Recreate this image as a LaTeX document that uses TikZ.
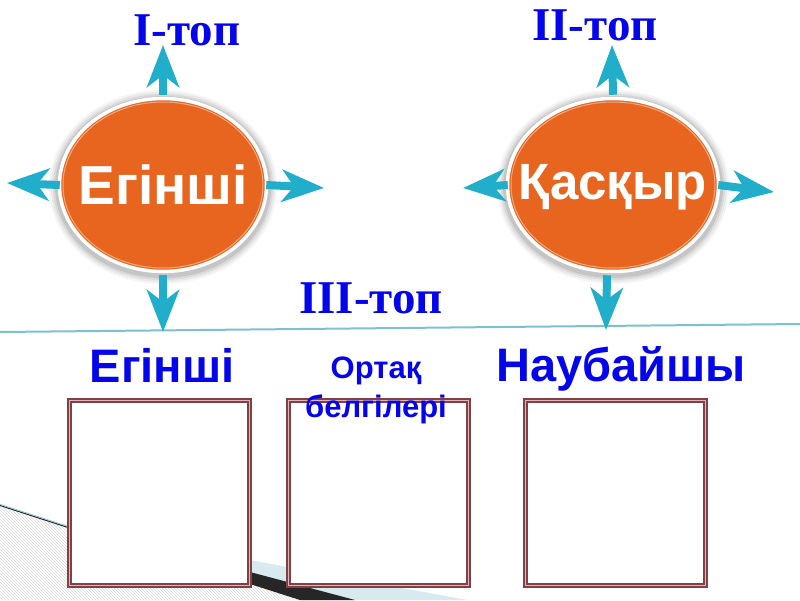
\documentclass[tikz,border=0pt]{standalone}
\usepackage{fontspec}
\setmainfont{Liberation Serif}
\setsansfont{Liberation Sans}
\usetikzlibrary{shapes.geometric,arrows.meta,patterns}
\definecolor{orng}{RGB}{232,101,31}
\definecolor{teal}{RGB}{32,174,202}
\definecolor{bluetxt}{RGB}{5,5,235}
\definecolor{maroon}{RGB}{128,64,70}
\definecolor{pinkin}{RGB}{226,180,186}
\definecolor{linecol}{RGB}{125,192,207}
\definecolor{lblue}{RGB}{214,234,240}
\tikzset{
  blob/.style={ellipse, fill=orng, draw=white, line width=3.5pt, inner sep=0pt},
  blobtext/.style={text=white, font=\sffamily\bfseries\fontsize{55}{60}\selectfont, inner sep=0pt},
  arr/.style={draw=teal, line width=8pt, -{Stealth[length=42pt, width=32pt, inset=12pt]}},
  grp/.style={text=bluetxt, font=\rmfamily\bfseries\fontsize{47}{50}\selectfont, anchor=base, inner sep=0pt},
  ttl/.style={text=bluetxt, font=\sffamily\bfseries\fontsize{47}{52}\selectfont, anchor=base, inner sep=0pt},
  sml/.style={text=bluetxt, font=\sffamily\bfseries\fontsize{31}{39}\selectfont, align=center, inner sep=0pt},
  cell/.style={rectangle, fill=white, draw=maroon, line width=1.5pt, double=pinkin, double distance=1.5pt,
     minimum width=180pt, minimum height=185pt, inner sep=0pt},
}
\begin{document}
\begin{tikzpicture}[x=1pt,y=-1pt]
\useasboundingbox (0,0) rectangle (800,600);
% background bottom-left
\fill[lblue] (0,504) -- (68,526) -- (250,560) -- (467,600) -- (0,600) -- cycle;
\fill[white] (0,506) -- (68,528) -- (250,584) -- (300,600) -- (0,600) -- cycle;
\fill[pattern=north west lines, pattern color=gray!30] (0,506) -- (68,528) -- (250,584) -- (300,600) -- (0,600) -- cycle;
\fill[black!85] (0,505) -- (68,527) -- (250,572) -- (355,600) -- (300,600) -- (250,584) -- (68,528) -- (0,506) -- cycle;
\draw[linecol, line width=0.6pt] (0,504.3) -- (68,526.3);
% horizontal line
\draw[linecol, line width=2pt] (0,332) -- (800,324);
% shadows
\foreach \s/\o in {9/0.04,7/0.05,5/0.07,3/0.09}{
  \fill[black, opacity=\o] (163,187) ellipse ({105+\s} and {88+\s});
  \fill[black, opacity=\o] (613,187) ellipse ({107+\s} and {88+\s});
}
% ellipses
\node[blob, minimum width=207pt, minimum height=173pt] (e1) at (163,185) {};
\draw[orng!55!white, line width=1pt] (e1.center) ellipse (100 and 83);
\node[blobtext] (x1) at (e1.center) {Егінші};
\node[blob, minimum width=211pt, minimum height=173pt] (e2) at (613,185) {};
\draw[orng!55!white, line width=1pt] (e2.center) ellipse (102 and 83);
\node[blobtext, font=\sffamily\bfseries\fontsize{51}{60}\selectfont] (x2) at ([yshift=-2pt]e2.center) {Қасқыр};
% arrow ends
\coordinate (u1) at (163,45);
\coordinate (l1) at (7,183);
\coordinate (r1) at (324,188);
\coordinate (d1) at (163,332);
\coordinate (u2) at (612,45);
\coordinate (l2) at (463,188);
\coordinate (r2) at (774,192);
\coordinate (d2) at (606,330);
\draw[arr] ([yshift=2pt]e1.north) -- (u1);
\draw[arr] ([xshift=2pt]e1.west) -- (l1);
\draw[arr] ([xshift=-2pt]e1.east) -- (r1);
\draw[arr] ([yshift=-2pt]e1.south) -- (d1);
\draw[arr] ([yshift=2pt]e2.north) -- (u2);
\draw[arr] ([xshift=2pt]e2.west) -- (l2);
\draw[arr] ([xshift=-2pt]e2.east) -- (r2);
\draw[arr] ([yshift=-2pt,xshift=-6pt]e2.south) -- (d2);
% group labels
\node[grp] (g1) at (187,45) {I-топ};
\node[grp] (g2) at (595,40) {II-топ};
\node[grp] (g3) at (371,313) {III-топ};
% titles
\node[ttl] (t1) at (162,382) {Егінші};
\node[ttl] (t3) at (621,381) {Наубайшы};
% boxes
\node[cell] (b1) at (159.5,493) {};
\node[cell] (b2) at (378.5,493) {};
\node[cell] (b3) at (615.5,493) {};
\node[sml] (t2) at (376,390) {Ортақ\\белгілері};
\end{tikzpicture}
\end{document}
